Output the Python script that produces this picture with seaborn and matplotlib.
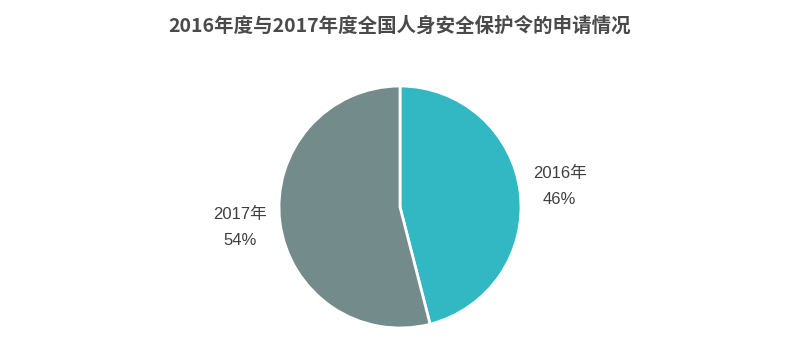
import matplotlib
matplotlib.use('Agg')
import matplotlib.pyplot as plt
import seaborn as sns

# data
years = ['2016年', '2017年']
shares = [46, 54]
colors = ['#31b8c3', '#738b8b']
title = '2016年度与2017年度全国人身安全保护令的申请情况'

sns.set_theme(style='white')
plt.rcParams['font.family'] = ['Noto Sans CJK SC', 'DejaVu Sans']

fig = plt.figure(figsize=(7.96, 3.56), dpi=100)
ax = fig.add_axes([(400 - 121) / 796, (356 - 328) / 356, 242 / 796, 242 / 356])

labels = [f'{y}\n{s}%' for y, s in zip(years, shares)]
wedges, texts = ax.pie(shares, labels=labels, colors=colors, startangle=90,
                       counterclock=False, labeldistance=1.33,
                       wedgeprops=dict(edgecolor='white', linewidth=2),
                       textprops=dict(fontsize=12, color='#404040',
                                      ha='center', va='center',
                                      linespacing=1.9,
                                      family=['Liberation Sans', 'Noto Sans CJK SC']))
ax.set_aspect('equal')
ax.set_xlim(-1, 1)
ax.set_ylim(-1, 1)
ax.axis('off')

fig.text(400 / 796, 1 - 26 / 356, title, ha='center', va='center',
         fontsize=14, fontweight='bold', color='#4a4a4a')

fig.savefig('out.png', dpi=100)
